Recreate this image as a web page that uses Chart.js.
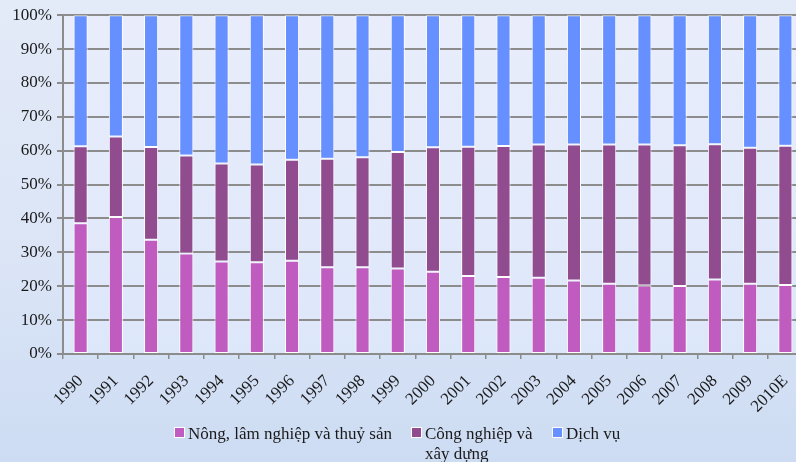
<!DOCTYPE html>
<html>
<head>
<meta charset="utf-8">
<script src="https://cdn.jsdelivr.net/npm/chart.js@4"></script>
<style>
  html, body { margin: 0; padding: 0; overflow: hidden; }
  body { width: 796px; height: 462px; background: linear-gradient(180deg, #e3eaf8 0%, #dbe5f6 55%, #cddcf3 100%); }
  #wrap { width: 812px; height: 462px; position: relative; }
</style>
</head>
<body>
<div id="wrap"><canvas id="gdp-structure-chart"></canvas></div>
<script>
// Cơ cấu GDP theo ngành (%)
const years = ['1990', '1991', '1992', '1993', '1994', '1995', '1996', '1997', '1998', '1999',
    '2000', '2001', '2002', '2003', '2004', '2005', '2006', '2007', '2008', '2009', '2010E'];
const agriculture = [38.6, 40.4, 33.7, 29.7, 27.3, 27.1, 27.5, 25.6, 25.6, 25.2,
    24.3, 23.0, 22.7, 22.5, 21.7, 20.7, 20.2, 20.1, 22.0, 20.7, 20.4];
const industry = [22.7, 23.8, 27.4, 28.9, 28.9, 28.8, 29.8, 32.0, 32.5, 34.4,
    36.7, 38.2, 38.7, 39.3, 40.1, 41.1, 41.6, 41.5, 39.9, 40.2, 41.1];
const services = [38.7, 35.8, 38.9, 41.4, 43.8, 44.1, 42.7, 42.4, 41.9, 40.4,
    39.0, 38.8, 38.6, 38.2, 38.2, 38.2, 38.2, 38.4, 38.1, 39.1, 38.5];
const yTicks = ['0%', '10%', '20%', '30%', '40%', '50%', '60%', '70%', '80%', '90%', '100%'];
const legendLines = [['Nông, lâm nghiệp và thuỷ sản'], ['Công nghiệp và', 'xây dựng'], ['Dịch vụ']];

const fontFamily = '"Liberation Serif", "DejaVu Serif", serif';

// plot area background
const plotBackground = {
    id: 'plotBackground',
    beforeDraw(chart) {
        const { ctx, chartArea: a } = chart;
        const g = ctx.createLinearGradient(0, a.top, 0, a.bottom);
        g.addColorStop(0, '#e9edfb');
        g.addColorStop(1, '#dde7fa');
        ctx.save();
        ctx.fillStyle = g;
        ctx.fillRect(a.left, a.top, a.right - a.left, a.bottom - a.top);
        ctx.restore();
    }
};

// legend under the axis, second item wraps onto two lines
const bottomLegend = {
    id: 'bottomLegend',
    afterDraw(chart) {
        const { ctx } = chart;
        const xs = [175, 412, 553];
        const top = 428;
        ctx.save();
        ctx.font = '17px ' + fontFamily;
        ctx.textBaseline = 'alphabetic';
        chart.data.datasets.forEach((ds, i) => {
            ctx.fillStyle = ds.backgroundColor;
            ctx.fillRect(xs[i], top, 9, 9);
            ctx.strokeStyle = '#ffffff';
            ctx.lineWidth = 1;
            ctx.strokeRect(xs[i] - 0.5, top - 0.5, 10, 10);
            ctx.fillStyle = '#1a1a1a';
            legendLines[i].forEach((line, j) => {
                ctx.fillText(line, xs[i] + 13, top + 11 + j * 20);
            });
        });
        ctx.restore();
    }
};

function makeDataset(label, data, color) {
    return {
        label: label,
        data: data,
        backgroundColor: color,
        borderColor: '#ffffff',
        borderWidth: 1,
        borderSkipped: false,
        categoryPercentage: 1.0,
        barPercentage: 0.4,
    };
}

const ctx = document.getElementById('gdp-structure-chart').getContext('2d');

const gdpChart = new Chart(ctx, {
    type: 'bar',
    data: {
        labels: years,
        datasets: [
            makeDataset('Nông, lâm nghiệp và thuỷ sản', agriculture, '#c05cc0'),
            makeDataset('Công nghiệp và xây dựng', industry, '#904c8e'),
            makeDataset('Dịch vụ', services, '#668fff'),
        ],
    },
    options: {
        responsive: true,
        maintainAspectRatio: false,
        animation: false,
        layout: { padding: { top: 15, left: 0, right: 8, bottom: 0 } },
        plugins: {
            tooltip: { enabled: false },
            legend: { display: false },
        },
        scales: {
            x: {
                stacked: true,
                afterFit: (s) => { s.height = 108; },
                grid: {
                    offset: true,
                    drawOnChartArea: false,
                    drawTicks: true,
                    tickLength: 5,
                    color: '#8c8c8c',
                    lineWidth: 1.5,
                },
                border: { color: '#8c8c8c', width: 2 },
                ticks: {
                    minRotation: 45,
                    maxRotation: 45,
                    autoSkip: false,
                    padding: 12,
                    color: '#1a1a1a',
                    font: { family: fontFamily, size: 17 },
                },
            },
            y: {
                stacked: true,
                min: 0,
                max: 100,
                afterFit: (s) => { s.width = 63; },
                grid: {
                    color: '#8c8c8c',
                    lineWidth: 2,
                    tickLength: 6,
                },
                border: { color: '#8c8c8c', width: 2 },
                ticks: {
                    stepSize: 10,
                    padding: 5,
                    color: '#1a1a1a',
                    font: { family: fontFamily, size: 17 },
                    callback: (v) => yTicks[Math.round(v / 10)],
                },
            },
        },
    },
    plugins: [plotBackground, bottomLegend],
});
</script>
</body>
</html>
